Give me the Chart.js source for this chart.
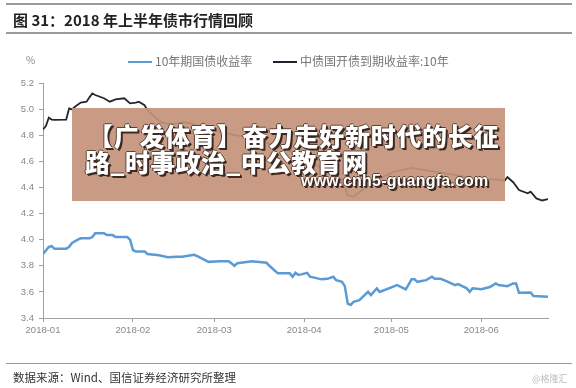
<!DOCTYPE html>
<html>
<head>
<meta charset="utf-8">
<script src="https://cdn.jsdelivr.net/npm/chart.js@4"></script>
<style>
  body { margin: 0; background: #fff; }
  #wrap { position: relative; width: 576px; height: 388px; overflow: hidden; font-family: "Noto Sans CJK SC", "Liberation Sans", sans-serif; }
  #chart { position: absolute; left: 0; top: 0; }
  .rule { position: absolute; left: 6px; width: 566px; background: #9a9a9a; }
  #title { position: absolute; left: 13px; top: 9px; font-size: 15px; font-weight: 700; color: #222; }
  #unit { position: absolute; left: 26px; top: 52px; font-size: 10px; color: #888; }
  .leg { position: absolute; top: 52px; font-size: 12px; color: #777; white-space: nowrap; }
  .leg i { display: inline-block; width: 24px; height: 2px; vertical-align: middle; margin-right: 3px; position: relative; top: -1px; }
  #source { position: absolute; left: 13px; top: 369px; font-size: 11.5px; color: #333; }
  #logo { position: absolute; left: 532px; top: 372px; font-size: 9px; color: #bbb; }
  #mark { position: absolute; left: 72px; top: 108px; width: 433px; height: 93px; background: rgba(196,146,123,0.92); }
  .mk { position: absolute; color: #fff; font-weight: 900; white-space: nowrap;
        text-shadow: 1px 1px 0 #3b2a22, 2px 2px 0 #3b2a22, -1px 0 0 #5a4236, 0 -1px 0 #5a4236; }
  #mk1 { left: 16px; top: 9px; font-size: 25px; letter-spacing: 0.7px; }
  #mk2 { left: 13px; top: 35px; font-size: 25px; letter-spacing: 0.3px; }
  #mk3 { left: 229px; top: 64px; font-size: 16px; font-weight: 700; font-family: "Liberation Sans", sans-serif; letter-spacing: 0.2px; }
</style>
</head>
<body>
<div id="wrap">
  <canvas id="chart" width="576" height="388"></canvas>
  <div class="rule" style="top:3px;height:2px"></div>
  <div id="title">图 31：2018 年上半年债市行情回顾</div>
  <div class="rule" style="top:32px;height:2px"></div>
  <div id="unit">%</div>
  <div class="leg" style="left:128px"><i style="background:#5b9bd5"></i>10年期国债收益率</div>
  <div class="leg" style="left:273px"><i style="background:#1f2330"></i>中债国开债到期收益率:10年</div>
  <div id="mark">
    <div class="mk" id="mk1">【广发体育】奋力走好新时代的长征</div>
    <div class="mk" id="mk2">路_时事政治_中公教育网</div>
    <div class="mk" id="mk3">www.cnh5-guangfa.com</div>
  </div>
  <div class="rule" style="top:363px;height:1px"></div>
  <div id="source">数据来源：Wind、国信证券经济研究所整理</div>
  <div id="logo">@格隆汇</div>
</div>
<script>
// days counted from 2018-01-01
const monthDays = [0, 31, 59, 90, 120, 151];
const monthLabels = ['2018-01', '2018-02', '2018-03', '2018-04', '2018-05', '2018-06'];

const govDays = [0, 2, 3, 4, 8, 9, 10, 12, 13, 16, 17, 18, 21, 22, 24, 25, 29, 30, 31, 32, 35, 36, 40, 43, 46, 48, 52, 53, 57, 61, 64, 66, 67, 72, 77, 78, 80, 81, 85, 86, 87, 88, 89, 91, 92, 96, 98, 100, 101, 103, 104, 105, 106, 107, 109, 112, 113, 115, 116, 122, 125, 127, 128, 129, 132, 134, 135, 137, 139, 142, 143, 146, 147, 148, 151, 154, 156, 157, 160, 162, 163, 164, 168, 169, 174];
const govYield = [3.89, 3.945, 3.95, 3.93, 3.93, 3.945, 3.975, 4.0, 4.01, 4.01, 4.02, 4.05, 4.05, 4.035, 4.035, 4.02, 4.02, 4.0, 3.92, 3.91, 3.91, 3.89, 3.88, 3.865, 3.87, 3.87, 3.885, 3.875, 3.83, 3.835, 3.835, 3.80, 3.82, 3.835, 3.823, 3.80, 3.76, 3.742, 3.742, 3.716, 3.746, 3.73, 3.734, 3.746, 3.716, 3.696, 3.70, 3.716, 3.69, 3.677, 3.644, 3.51, 3.50, 3.524, 3.537, 3.60, 3.575, 3.627, 3.60, 3.652, 3.62, 3.696, 3.696, 3.677, 3.69, 3.716, 3.70, 3.70, 3.683, 3.652, 3.66, 3.627, 3.60, 3.627, 3.62, 3.637, 3.665, 3.652, 3.644, 3.665, 3.665, 3.593, 3.596, 3.568, 3.563];

const cdbDays = [0, 1, 2, 3, 4, 8, 9, 10, 11, 13, 15, 16, 17, 18, 21, 23, 25, 28, 30, 32, 33, 35, 36, 39, 41, 44, 48, 51, 55, 59, 62, 66, 70, 75, 80, 85, 90, 95, 100, 103, 105, 107, 110, 113, 116, 121, 127, 132, 141, 148, 157, 159, 160, 162, 164, 167, 168, 170, 172, 174];
const cdbYield = [4.845, 4.87, 4.934, 4.92, 4.917, 4.92, 5.006, 4.998, 5.018, 5.05, 5.057, 5.09, 5.12, 5.108, 5.083, 5.057, 5.075, 5.083, 5.044, 5.05, 5.057, 5.03, 4.99, 4.93, 4.896, 4.883, 4.90, 4.89, 4.845, 4.84, 4.82, 4.80, 4.79, 4.76, 4.72, 4.68, 4.62, 4.56, 4.50, 4.46, 4.34, 4.33, 4.38, 4.43, 4.47, 4.52, 4.55, 4.53, 4.50, 4.47, 4.46, 4.45, 4.48, 4.44, 4.38, 4.355, 4.367, 4.316, 4.30, 4.31];

const toPoints = (xs, ys) => xs.map((d, i) => ({ x: d, y: ys[i] }));

const tickFont = { family: 'Liberation Sans', size: 9.5 };

new Chart(document.getElementById('chart'), {
  type: 'line',
  data: {
    datasets: [
      { label: '10年期国债收益率', data: toPoints(govDays, govYield), borderColor: '#5b9bd5', borderWidth: 2.5, pointRadius: 0, tension: 0 },
      { label: '中债国开债到期收益率:10年', data: toPoints(cdbDays, cdbYield), borderColor: '#23262e', borderWidth: 1.8, pointRadius: 0, tension: 0 }
    ]
  },
  options: {
    responsive: false,
    animation: false,
    layout: { padding: { top: 83, right: 28, left: 0, bottom: 0 } },
    plugins: { legend: { display: false }, tooltip: { enabled: false } },
    scales: {
      x: {
        type: 'linear',
        min: 0,
        max: 174,
        afterBuildTicks: s => { s.ticks = monthDays.map(v => ({ value: v })); },
        afterFit: s => { s.height = 70; },
        grid: { drawOnChartArea: false, tickLength: 4, color: '#a0a0a0' },
        border: { color: '#a0a0a0' },
        ticks: { autoSkip: false, maxRotation: 0, padding: 3, color: '#888', font: tickFont,
                 callback: (v, i) => monthLabels[i] }
      },
      y: {
        min: 3.4,
        max: 5.2,
        afterFit: s => { s.width = 43; },
        grid: { drawOnChartArea: false, tickLength: 4, color: '#a0a0a0' },
        border: { color: '#a0a0a0' },
        ticks: { stepSize: 0.2, padding: 5, color: '#888', font: tickFont, callback: v => v.toFixed(1) }
      }
    }
  }
});
</script>
</body>
</html>
